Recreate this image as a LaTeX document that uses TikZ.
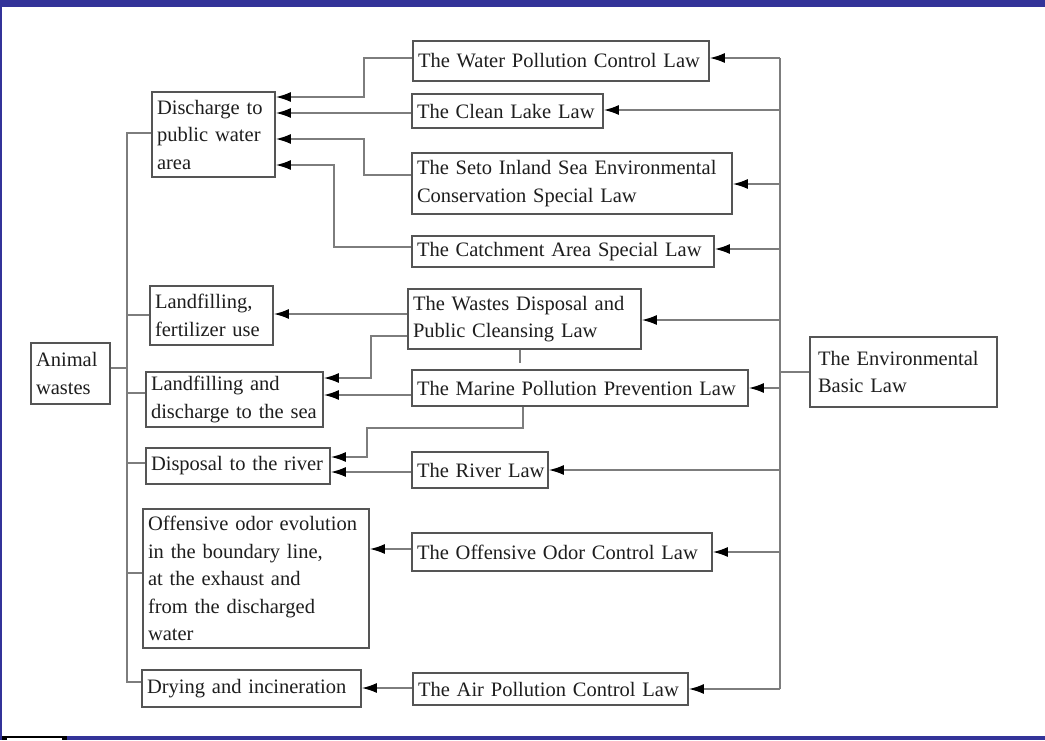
\documentclass[tikz,border=0pt]{standalone}
\usepackage{fontspec}
\setmainfont{Liberation Serif}
\usetikzlibrary{arrows.meta}
\definecolor{frameblue}{RGB}{51,51,153}
\definecolor{linegray}{RGB}{125,125,125}
\definecolor{boxgray}{RGB}{85,85,85}
\definecolor{txt}{RGB}{30,30,30}
\begin{document}
\begin{tikzpicture}[x=1pt,y=-1pt,
  box/.style={draw=boxgray, line width=1.8pt, fill=white, inner xsep=5pt, inner ysep=0pt,
    align=left, font=\fontsize{20.5}{27.5}\selectfont, text=txt},
  conn/.style={draw=linegray, line width=1.5pt},
  arr/.style={conn, -{Latex[length=15pt,width=10pt,color=black]}},
  frame/.style={fill=frameblue, draw=none}]
% page and frame
\useasboundingbox (0,0) rectangle (1045,740);
\fill[white] (0,0) rectangle (1045,740);
\fill[frame] (0,0) rectangle (1045,7);
\fill[frame] (0,0) rectangle (2,740);
\fill[frame] (0,736) rectangle (1045,740);
\fill[black] (2,736) rectangle (67,740);
\fill[white] (7,738) rectangle (62,740);

% left column
\node[box, text width=69pt, minimum height=61pt] (anim) at (70.5,373.5) {\mbox{Animal}\\\mbox{wastes}};
\node[box, text width=113pt, minimum height=85pt] (dis) at (213.5,134.5) {\mbox{Discharge to}\\\mbox{public water}\\\mbox{area}};
\node[box, text width=113pt, minimum height=59pt] (lf) at (211.5,315.5) {\mbox{Landfilling,}\\\mbox{fertilizer use}};
\node[box, text width=167pt, minimum height=55pt] (ls) at (234.5,399.5) {\mbox{Landfilling and}\\\mbox{discharge to the sea}};
\node[box, text width=174pt, minimum height=36pt] (dr) at (238,466) {\mbox{Disposal to the river}};
\node[box, text width=216pt, minimum height=139pt] (od) at (256,578.5) {\mbox{Offensive odor evolution}\\\mbox{in the boundary line,}\\\mbox{at the exhaust and}\\\mbox{from the discharged}\\\mbox{water}};
\node[box, text width=209pt, minimum height=37pt] (dry) at (251.5,688.5) {\mbox{Drying and incineration}};

% laws
\node[box, text width=286pt, minimum height=40pt] (wp) at (561,61) {\mbox{The Water Pollution Control Law}};
\node[box, text width=181pt, minimum height=34pt] (cl) at (507.5,111) {\mbox{The Clean Lake Law}};
\node[box, text width=310pt, minimum height=61pt] (seto) at (572,183.5) {\mbox{The Seto Inland Sea Environmental}\\\mbox{Conservation Special Law}};
\node[box, text width=292pt, minimum height=31pt] (cat) at (563,251.5) {\mbox{The Catchment Area Special Law}};
\node[box, text width=223pt, minimum height=60pt] (wd) at (524.5,319) {\mbox{The Wastes Disposal and}\\\mbox{Public Cleansing Law}};
\node[box, text width=326pt, minimum height=36pt] (mp) at (580,388) {\mbox{The Marine Pollution Prevention Law}};
\node[box, text width=126pt, minimum height=36pt] (rl) at (480,470) {\mbox{The River Law}};
\node[box, text width=290pt, minimum height=38pt] (ol) at (562,552) {\mbox{The Offensive Odor Control Law}};
\node[box, text width=265pt, minimum height=32pt] (ap) at (550.5,689) {\mbox{The Air Pollution Control Law}};
\node[box, text width=171pt, minimum height=70pt, inner xsep=8pt] (env) at (903.5,372) {\mbox{The Environmental}\\\mbox{Basic Law}};

% left trunk from Animal wastes
\draw[conn] (dis.west |- 0,133) -| (127,682) -- (dry.west |- 0,682);
\draw[conn] (anim.east |- 0,368) -- (127,368);
\draw[conn] (127,315) -- (lf.west |- 0,315);
\draw[conn] (127,393) -- (ls.west |- 0,393);
\draw[conn] (127,463) -- (dr.west |- 0,463);
\draw[conn] (127,573) -- (od.west |- 0,573);

% right trunk from The Environmental Basic Law
\coordinate (ttop) at (780,58);
\coordinate (tbot) at (780,689);
\draw[conn] (env.west |- 0,372) -- (780,372);
\draw[conn] (ttop) -- (tbot);
\draw[arr] (ttop) -- (wp.east |- ttop);
\draw[arr] (780,110) -- (cl.east |- 0,110);
\draw[arr] (780,184) -- (seto.east |- 0,184);
\draw[arr] (780,249) -- (cat.east |- 0,249);
\draw[arr] (780,320) -- (wd.east |- 0,320);
\draw[arr] (780,388) -- (mp.east |- 0,388);
\draw[arr] (780,470) -- (rl.east |- 0,470);
\draw[arr] (780,552) -- (ol.east |- 0,552);
\draw[arr] (tbot) -- (ap.east |- tbot);

% laws to outcomes
\draw[arr] (wp.west |- 0,58) -- ++(-48,0) |- (dis.east |- 0,97);
\draw[arr] (cl.west |- 0,113) -- (dis.east |- 0,113);
\draw[arr] (seto.west |- 0,175) -- ++(-47,0) |- (dis.east |- 0,139);
\draw[arr] (cat.west |- 0,247) -- ++(-77,0) |- (dis.east |- 0,165);
\draw[arr] (wd.west |- 0,314) -- (lf.east |- 0,314);
\draw[arr] (wd.west |- 0,336) -- ++(-36,0) |- (ls.east |- 0,378);
\draw[conn] (wd.south -| 520,0) -- ++(0,13);
\draw[arr] (mp.west |- 0,395) -- (ls.east |- 0,395);
\draw[arr] (mp.south -| 523,0) |- (367,428) |- (dr.east |- 0,457);
\draw[arr] (rl.west |- 0,472) -- (dr.east |- 0,472);
\draw[arr] (ol.west |- 0,549) -- (od.east |- 0,549);
\draw[arr] (ap.west |- 0,688) -- (dry.east |- 0,688);
\end{tikzpicture}
\end{document}
